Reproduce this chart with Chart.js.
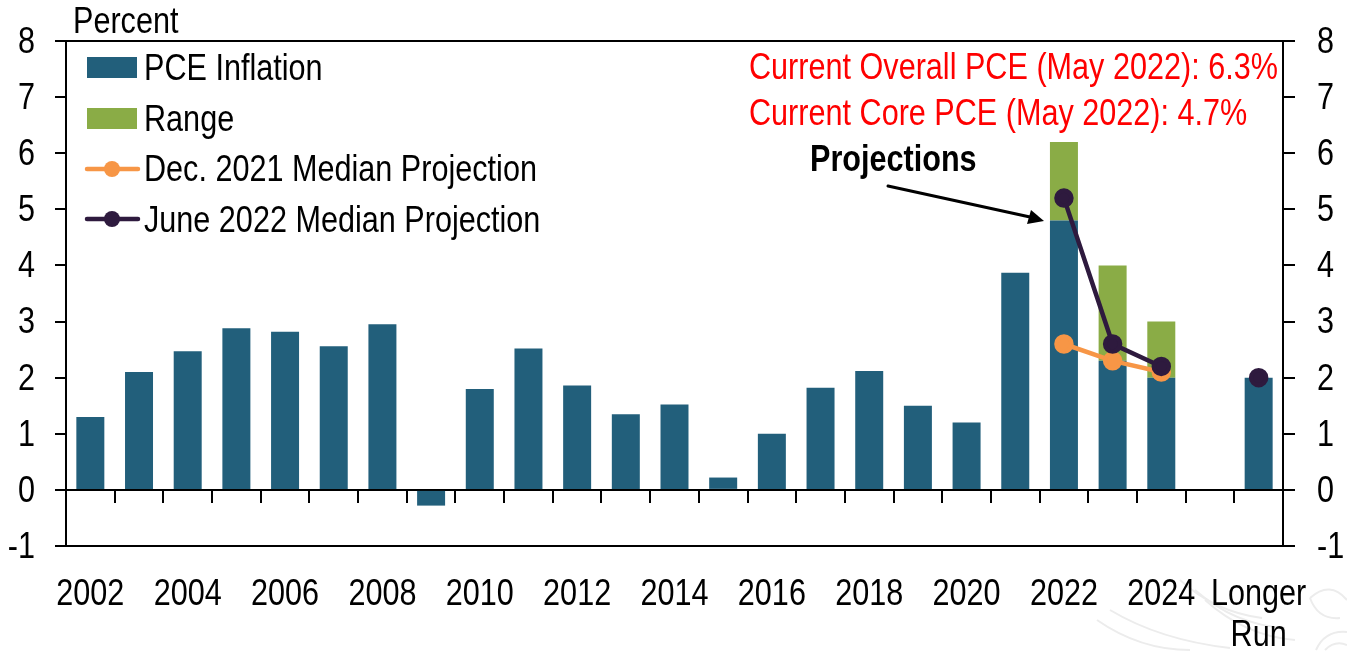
<!DOCTYPE html>
<html>
<head>
<meta charset="utf-8">
<style>
    body { margin: 0; background: #fff; }
    #wrap { width: 1347px; height: 651px; }
</style>
<script src="https://cdn.jsdelivr.net/npm/chart.js@4"></script>
</head>
<body>
<div id="wrap"><canvas id="pceChart" width="1347" height="651"></canvas></div>
<script>
const categories = ['2002', '2003', '2004', '2005', '2006', '2007', '2008', '2009', '2010', '2011', '2012', '2013',
    '2014', '2015', '2016', '2017', '2018', '2019', '2020', '2021', '2022', '2023', '2024', '', 'Longer Run'];
const pceValues = [1.3, 2.1, 2.47, 2.88, 2.82, 2.56, 2.95, -0.28, 1.8, 2.52, 1.86, 1.35,
    1.52, 0.22, 1.0, 1.82, 2.12, 1.5, 1.2, 3.87, 4.8, 2.3, 2.0, null, 2.0];
const rangeValues = [null, null, null, null, null, null, null, null, null, null, null, null,
    null, null, null, null, null, null, null, null, 1.4, 1.7, 1.0, null, null];
const dec2021Values = [null, null, null, null, null, null, null, null, null, null, null, null,
    null, null, null, null, null, null, null, null, 2.6, 2.3, 2.1, null, null];
const june2022Values = [null, null, null, null, null, null, null, null, null, null, null, null,
    null, null, null, null, null, null, null, null, 5.2, 2.6, 2.2, null, 2.0];
const xTickLabels = ['2002', '', '2004', '', '2006', '', '2008', '', '2010', '', '2012', '',
    '2014', '', '2016', '', '2018', '', '2020', '', '2022', '', '2024', '', ['Longer', 'Run']];

const fontFamily = '"Liberation Sans", Arial, sans-serif';
const textSize = 36;
const narrow = 0.85; // no narrow face installed, so squeeze the text sideways
const blue = '#225f7b';
const green = '#8aac46';
const orange = '#f79646';
const purple = '#2e1a3e';

const canvas = document.getElementById('pceChart');
const context = canvas.getContext('2d');
const plainFillText = context.fillText;
context.fillText = function (text, x, y) {
    this.save();
    this.scale(narrow, 1);
    plainFillText.call(this, text, x / narrow, y + 2);
    this.restore();
};

function outerLines(ctx) {
    return ctx.tick && (ctx.tick.value === 8 || ctx.tick.value === -1) ? '#000' : 'rgba(0,0,0,0)';
}

function fitYAxis(scale, width) {
    scale.width = width;
    scale.paddingTop = 0;
    scale.paddingBottom = 0;
}

// faint seal watermark in the bottom right corner
const watermark = {
    id: 'watermark',
    beforeDraw(chart) {
        const c = chart.ctx;
        c.save();
        c.strokeStyle = '#ececec';
        c.lineWidth = 2;
        [
            [1097, 620, 1140, 650, 1190, 650],
            [1110, 610, 1160, 640, 1230, 648],
            [1180, 580, 1215, 612, 1262, 618],
            [1195, 590, 1235, 625, 1285, 628],
            [1205, 600, 1245, 636, 1295, 640],
            [1310, 598, 1330, 580, 1347, 600],
            [1310, 598, 1318, 620, 1340, 618],
            [1316, 650, 1325, 630, 1347, 632],
            [1325, 650, 1335, 640, 1347, 645]
        ].forEach(([x1, y1, cx, cy, x2, y2]) => {
            c.beginPath();
            c.moveTo(x1, y1);
            c.quadraticCurveTo(cx, cy, x2, y2);
            c.stroke();
        });
        c.restore();
    }
};

const annotations = {
    id: 'annotations',
    afterDraw(chart) {
        const c = chart.ctx;
        c.save();
        c.textBaseline = 'middle';
        c.textAlign = 'left';
        c.font = textSize + 'px ' + fontFamily;
        c.fillStyle = '#000';
        c.fillText('Percent', 73, 21);

        // legend
        c.fillStyle = blue;
        c.fillRect(87, 57, 50, 21);
        c.fillStyle = green;
        c.fillRect(87, 108, 50, 21);
        [[orange, 169], [purple, 219]].forEach(([color, y]) => {
            c.strokeStyle = color;
            c.fillStyle = color;
            c.lineWidth = 4.5;
            c.lineCap = 'round';
            c.beginPath();
            c.moveTo(87, y);
            c.lineTo(138, y);
            c.stroke();
            c.beginPath();
            c.arc(112, y, 8, 0, Math.PI * 2);
            c.fill();
        });
        c.fillStyle = '#000';
        c.fillText('PCE Inflation', 144, 68);
        c.fillText('Range', 144, 119);
        c.fillText('Dec. 2021 Median Projection', 144, 169);
        c.fillText('June 2022 Median Projection', 144, 220);

        c.fillStyle = '#ff0000';
        c.fillText('Current Overall PCE (May 2022): 6.3%', 749, 67);
        c.fillText('Current Core PCE (May 2022): 4.7%', 749, 113);

        c.fillStyle = '#000';
        c.font = 'bold ' + textSize + 'px ' + fontFamily;
        c.fillText('Projections', 810, 159);

        // arrow to the 2022 bar
        c.strokeStyle = '#000';
        c.lineWidth = 3;
        c.beginPath();
        c.moveTo(888, 186);
        c.lineTo(1030, 217);
        c.stroke();
        c.beginPath();
        c.moveTo(1044, 221);
        c.lineTo(1027, 224);
        c.lineTo(1031, 210);
        c.closePath();
        c.fill();
        c.restore();
    }
};

new Chart(canvas, {
    type: 'bar',
    data: {
        labels: categories,
        datasets: [
            { type: 'line', label: 'June 2022 Median Projection', data: june2022Values, borderColor: purple, backgroundColor: purple,
                borderWidth: 4.5, pointRadius: 7.5, pointHoverRadius: 7.5, order: 0 },
            { type: 'line', label: 'Dec. 2021 Median Projection', data: dec2021Values, borderColor: orange, backgroundColor: orange,
                borderWidth: 4.5, pointRadius: 7.5, pointHoverRadius: 7.5, order: 1 },
            { label: 'PCE Inflation', data: pceValues, backgroundColor: blue, stack: 'pce', order: 2 },
            { label: 'Range', data: rangeValues, backgroundColor: green, stack: 'pce', order: 3 }
        ]
    },
    options: {
        responsive: false,
        animation: false,
        barPercentage: 0.575,
        categoryPercentage: 1,
        layout: { padding: { top: 41, left: 0, right: 0, bottom: 0 } },
        plugins: { legend: { display: false }, tooltip: { enabled: false } },
        scales: {
            x: {
                position: 'bottom',
                grid: { display: false },
                border: { display: false },
                ticks: {
                    autoSkip: false,
                    maxRotation: 0,
                    padding: 18,
                    color: '#000',
                    font: { family: fontFamily, size: textSize, lineHeight: 1.15 },
                    callback: (value, index) => xTickLabels[index]
                },
                afterFit: scale => { scale.height = 105; }
            },
            xZero: {
                type: 'category',
                labels: categories,
                position: { y: 0 },
                offset: true,
                grid: { offset: true, drawOnChartArea: false, drawTicks: true, tickLength: 12, tickColor: '#000', lineWidth: 2 },
                border: { display: true, color: '#000', width: 2 },
                ticks: { display: false, autoSkip: false }
            },
            y: {
                position: 'left',
                min: -1,
                max: 8,
                ticks: {
                    stepSize: 1,
                    padding: 20,
                    color: '#000',
                    font: { family: fontFamily, size: textSize }
                },
                grid: { color: outerLines, tickColor: '#000', tickLength: 11, lineWidth: 2 },
                border: { color: '#000', width: 2 },
                afterFit: scale => fitYAxis(scale, 66)
            },
            yRight: {
                position: 'right',
                min: -1,
                max: 8,
                ticks: {
                    stepSize: 1,
                    padding: 22,
                    color: '#000',
                    font: { family: fontFamily, size: textSize }
                },
                grid: { drawOnChartArea: false, tickColor: '#000', tickLength: 12, lineWidth: 2 },
                border: { color: '#000', width: 2 },
                afterFit: scale => fitYAxis(scale, 64)
            }
        }
    },
    plugins: [watermark, annotations]
});
</script>
</body>
</html>
